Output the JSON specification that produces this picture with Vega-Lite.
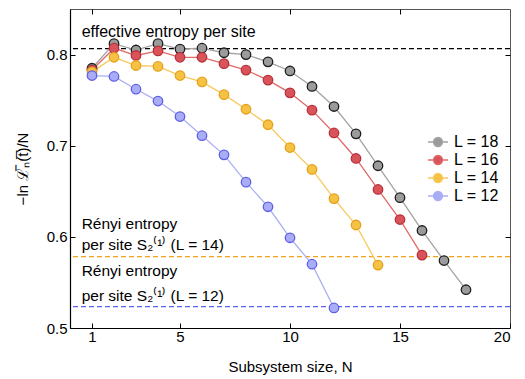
{
  "$schema": "https://vega.github.io/schema/vega-lite/v6.json",
  "width": 440,
  "height": 319,
  "autosize": "none",
  "padding": {"left": 70, "top": 9, "right": 15, "bottom": 51},
  "config": {
    "font": "Liberation Sans",
    "view": {"stroke": "#555555", "strokeWidth": 1},
    "axis": {
      "grid": false,
      "domainColor": "black",
      "domainWidth": 1.2,
      "tickColor": "black",
      "tickSize": -5,
      "labelColor": "black",
      "titleColor": "black",
      "labelFontSize": 15,
      "titleFontSize": 15,
      "titleFontWeight": "normal"
    }
  },
  "datasets": {
    "series": [
      {"L": "L = 18", "N": 1, "v": 0.785}, {"L": "L = 18", "N": 2, "v": 0.812}, {"L": "L = 18", "N": 3, "v": 0.805}, {"L": "L = 18", "N": 4, "v": 0.812}, {"L": "L = 18", "N": 5, "v": 0.806}, {"L": "L = 18", "N": 6, "v": 0.807}, {"L": "L = 18", "N": 7, "v": 0.802}, {"L": "L = 18", "N": 8, "v": 0.800}, {"L": "L = 18", "N": 9, "v": 0.792}, {"L": "L = 18", "N": 10, "v": 0.782}, {"L": "L = 18", "N": 11, "v": 0.765}, {"L": "L = 18", "N": 12, "v": 0.743}, {"L": "L = 18", "N": 13, "v": 0.713}, {"L": "L = 18", "N": 14, "v": 0.678}, {"L": "L = 18", "N": 15, "v": 0.643}, {"L": "L = 18", "N": 16, "v": 0.607}, {"L": "L = 18", "N": 17, "v": 0.574}, {"L": "L = 18", "N": 18, "v": 0.542},
      {"L": "L = 16", "N": 1, "v": 0.783}, {"L": "L = 16", "N": 2, "v": 0.807}, {"L": "L = 16", "N": 3, "v": 0.799}, {"L": "L = 16", "N": 4, "v": 0.804}, {"L": "L = 16", "N": 5, "v": 0.797}, {"L": "L = 16", "N": 6, "v": 0.797}, {"L": "L = 16", "N": 7, "v": 0.790}, {"L": "L = 16", "N": 8, "v": 0.783}, {"L": "L = 16", "N": 9, "v": 0.772}, {"L": "L = 16", "N": 10, "v": 0.758}, {"L": "L = 16", "N": 11, "v": 0.739}, {"L": "L = 16", "N": 12, "v": 0.714}, {"L": "L = 16", "N": 13, "v": 0.686}, {"L": "L = 16", "N": 14, "v": 0.652}, {"L": "L = 16", "N": 15, "v": 0.619}, {"L": "L = 16", "N": 16, "v": 0.580},
      {"L": "L = 14", "N": 1, "v": 0.781}, {"L": "L = 14", "N": 2, "v": 0.797}, {"L": "L = 14", "N": 3, "v": 0.788}, {"L": "L = 14", "N": 4, "v": 0.787}, {"L": "L = 14", "N": 5, "v": 0.777}, {"L": "L = 14", "N": 6, "v": 0.770}, {"L": "L = 14", "N": 7, "v": 0.756}, {"L": "L = 14", "N": 8, "v": 0.740}, {"L": "L = 14", "N": 9, "v": 0.723}, {"L": "L = 14", "N": 10, "v": 0.698}, {"L": "L = 14", "N": 11, "v": 0.674}, {"L": "L = 14", "N": 12, "v": 0.642}, {"L": "L = 14", "N": 13, "v": 0.613}, {"L": "L = 14", "N": 14, "v": 0.569},
      {"L": "L = 12", "N": 1, "v": 0.777}, {"L": "L = 12", "N": 2, "v": 0.776}, {"L": "L = 12", "N": 3, "v": 0.762}, {"L": "L = 12", "N": 4, "v": 0.749}, {"L": "L = 12", "N": 5, "v": 0.732}, {"L": "L = 12", "N": 6, "v": 0.711}, {"L": "L = 12", "N": 7, "v": 0.690}, {"L": "L = 12", "N": 8, "v": 0.660}, {"L": "L = 12", "N": 9, "v": 0.633}, {"L": "L = 12", "N": 10, "v": 0.599}, {"L": "L = 12", "N": 11, "v": 0.570}, {"L": "L = 12", "N": 12, "v": 0.522}
    ],
    "one": [{"k": 1}]
  },
  "data": {"name": "series"},
  "resolve": {"axis": {"x": "independent", "y": "independent"}},
  "layer": [
    {
      "data": {"name": "one"},
      "mark": {"type": "rule", "strokeDash": [5, 3], "strokeWidth": 1.3, "color": "black"},
      "encoding": {"y": {"datum": 0.8066, "type": "quantitative", "axis": null}}
    },
    {
      "data": {"name": "one"},
      "mark": {"type": "rule", "strokeDash": [5, 3], "strokeWidth": 1.3, "color": "#f0a21c"},
      "encoding": {"y": {"datum": 0.5784, "type": "quantitative", "axis": null}}
    },
    {
      "data": {"name": "one"},
      "mark": {"type": "rule", "strokeDash": [5, 3], "strokeWidth": 1.3, "color": "#5c5cf0"},
      "encoding": {"y": {"datum": 0.5234, "type": "quantitative", "axis": null}}
    },
    {
      "mark": {"type": "line", "strokeWidth": 1.3},
      "encoding": {
        "x": {"field": "N", "type": "quantitative", "scale": {"domain": [0, 20], "nice": false, "zero": false},
              "axis": {"values": [1, 5, 10, 15, 20], "title": "Subsystem size, N", "labelPadding": 6, "titlePadding": 15}},
        "y": {"field": "v", "type": "quantitative", "scale": {"domain": [0.5, 0.85], "nice": false, "zero": false},
              "axis": {"values": [0.5, 0.6, 0.7, 0.8], "format": ".1f", "title": "−ln ℒ̅ₙ(t̅)/N", "labelPadding": 8, "titleX": -40}},
        "color": {"field": "L", "type": "nominal",
                  "scale": {"domain": ["L = 18", "L = 16", "L = 14", "L = 12"], "range": ["#a3a3a3", "#e06a6a", "#f7c95c", "#aab0f2"]},
                  "legend": {"orient": "none", "legendX": 360, "legendY": 125, "title": null, "padding": 0,
                             "symbolType": "M-0.9,0A0.9,0.9 0 1,1 0.9,0A0.9,0.9 0 1,1 -0.9,0Z M-2,0H-0.9 M0.9,0H2",
                             "symbolSize": 100, "symbolStrokeWidth": 1.3, "labelFontSize": 16, "labelOffset": 8, "rowPadding": 2}}
      }
    },
    {
      "mark": {"type": "circle", "size": 90, "strokeWidth": 1.3, "opacity": 1},
      "encoding": {
        "x": {"field": "N", "type": "quantitative", "axis": {"orient": "top", "values": [1, 5, 10, 15], "labels": false, "title": null, "domain": false}},
        "y": {"field": "v", "type": "quantitative", "axis": {"orient": "right", "values": [0.6, 0.7, 0.8], "labels": false, "title": null, "domain": false}},
        "fill": {"field": "L", "type": "nominal",
                 "scale": {"domain": ["L = 18", "L = 16", "L = 14", "L = 12"], "range": ["#9b9b9b", "#d9545a", "#f6c244", "#a9adf5"]},
                 "legend": {"orient": "none", "legendX": 360, "legendY": 125, "title": null, "padding": 0,
                            "symbolType": "M-0.9,0A0.9,0.9 0 1,1 0.9,0A0.9,0.9 0 1,1 -0.9,0Z M-2,0H-0.9 M0.9,0H2",
                            "symbolSize": 100, "symbolStrokeWidth": 1.3, "labelFontSize": 16, "labelOffset": 8, "rowPadding": 2}},
        "stroke": {"field": "L", "type": "nominal", "legend": null,
                   "scale": {"domain": ["L = 18", "L = 16", "L = 14", "L = 12"], "range": ["#1e1e1e", "#b8303a", "#e4a11c", "#5f5fe6"]}}
      }
    },
    {
      "data": {"name": "one"},
      "mark": {"type": "text", "align": "left", "baseline": "middle", "fontSize": 16, "color": "black"},
      "encoding": {"x": {"datum": 0.53, "type": "quantitative", "axis": null}, "y": {"datum": 0.825, "type": "quantitative", "axis": null}, "text": {"value": "effective entropy per site"}}
    },
    {
      "data": {"name": "one"},
      "mark": {"type": "text", "align": "left", "baseline": "middle", "fontSize": 15.5, "color": "black"},
      "encoding": {"x": {"datum": 0.53, "type": "quantitative", "axis": null}, "y": {"datum": 0.614, "type": "quantitative", "axis": null}, "text": {"value": "Rényi entropy"}}
    },
    {
      "data": {"name": "one"},
      "mark": {"type": "text", "align": "left", "baseline": "middle", "fontSize": 15.5, "color": "black"},
      "encoding": {"x": {"datum": 0.53, "type": "quantitative", "axis": null}, "y": {"datum": 0.591, "type": "quantitative", "axis": null}, "text": {"value": "per site S₂⁽¹⁾ (L = 14)"}}
    },
    {
      "data": {"name": "one"},
      "mark": {"type": "text", "align": "left", "baseline": "middle", "fontSize": 15.5, "color": "black"},
      "encoding": {"x": {"datum": 0.53, "type": "quantitative", "axis": null}, "y": {"datum": 0.562, "type": "quantitative", "axis": null}, "text": {"value": "Rényi entropy"}}
    },
    {
      "data": {"name": "one"},
      "mark": {"type": "text", "align": "left", "baseline": "middle", "fontSize": 15.5, "color": "black"},
      "encoding": {"x": {"datum": 0.53, "type": "quantitative", "axis": null}, "y": {"datum": 0.5355, "type": "quantitative", "axis": null}, "text": {"value": "per site S₂⁽¹⁾ (L = 12)"}}
    }
  ]
}
